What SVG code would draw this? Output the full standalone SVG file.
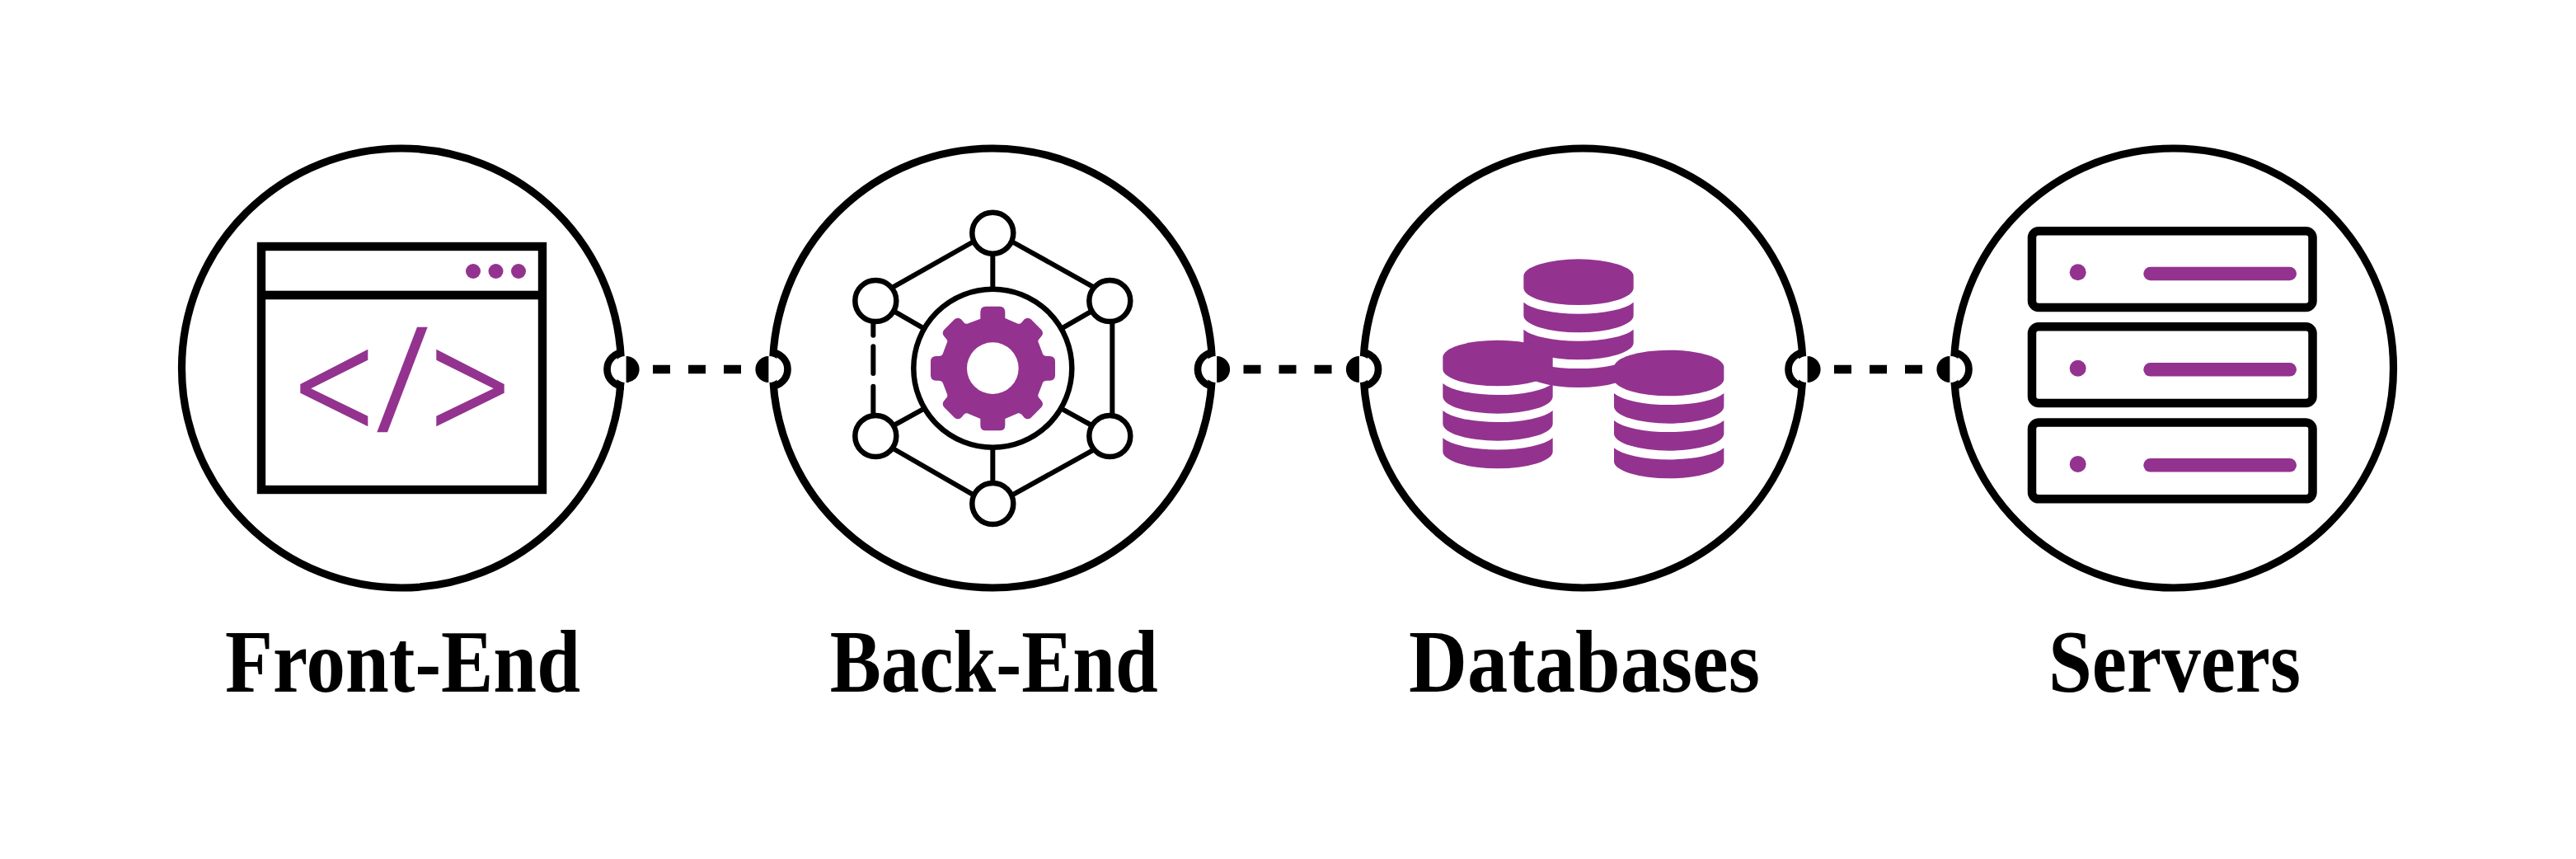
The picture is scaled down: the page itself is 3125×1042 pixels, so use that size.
<svg xmlns="http://www.w3.org/2000/svg" width="3125" height="1042" viewBox="0 0 3125 1042">
<style>
.big{fill:#fff;stroke:#000;stroke-width:9.2}
.p{fill:#93338f}
.lbl{font-family:"Liberation Serif","Times New Roman",serif;font-weight:700;font-size:108px;fill:#000}
.net{fill:none;stroke:#000;stroke-width:6;stroke-linecap:round}
.nd{fill:#fff;stroke:#000;stroke-width:6.5}
.srv{fill:#fff;stroke:#000;stroke-width:10.5}
</style>
<defs>
<g id="stack" class="p">
<path d="M505,135A200,62 0 0 1 905,135V178A200,62 0 0 1 505,178Z"/>
<path d="M505,230A211,62 0 0 0 905,230V278A200,62 0 0 1 505,278Z"/>
<path d="M505,329A211,62 0 0 0 905,329V377A200,62 0 0 1 505,377Z"/>
<path d="M505,429A211,62 0 0 0 905,429V478A200,62 0 0 1 505,478Z"/>
</g>
<g id="port">
<circle cx="0" cy="0" r="16" fill="#fff"/>
<path d="M-2,-20.5A20.5,20.5 0 0 0 -2,20.5" fill="none" stroke="#000" stroke-width="8.7"/>
<path d="M0.6,-16A16,16 0 0 1 0.6,16Z" fill="#000"/>
</g>
</defs>
<rect width="3125" height="1042" fill="#fff"/>

<g id="front-end">
<circle class="big" cx="487" cy="446.5" r="266.5"/>
<rect x="317" y="299" width="341" height="295" fill="#fff" stroke="#000" stroke-width="10.4"/>
<rect x="312" y="352.7" width="351" height="10.6" fill="#000"/>
<g class="p">
<circle cx="574" cy="329" r="9"/><circle cx="601.5" cy="329" r="9"/><circle cx="629" cy="329" r="9"/>
<polygon points="446.3,423.7 364.3,466 364.3,476.7 446.3,517.3 446.3,504.7 377.3,471.3 446.3,436.7"/>
<polygon points="506,396.7 518.7,396.7 470,524.3 457.3,524.3"/>
<polygon points="529.3,423.7 611.7,466 611.7,476.7 529.3,517.3 529.3,504.7 598.7,471.3 529.3,436.7"/>
</g>
<text class="lbl" x="273" y="839" textLength="431" lengthAdjust="spacingAndGlyphs">Front-End</text>
</g>

<g id="back-end">
<circle class="big" cx="1204" cy="446.5" r="266.5"/>
<g transform="translate(1000,230) scale(.33333)" class="net" style="stroke-width:18">
<path d="M538,192L255,352M688,192L975,352M255,945L538,1108M975,950L690,1108"/>
<path d="M613,240V355M613,945V1060M258,445L358,503M968,445L868,503M258,855L358,800M968,855L868,800"/>
<path d="M1048,485V815M178,485V530M178,571V669M178,716V815"/>
</g>
<g class="nd">
<circle cx="1204.3" cy="282.7" r="25"/><circle cx="1062.3" cy="365" r="25"/><circle cx="1346.3" cy="365" r="25"/>
<circle cx="1062.3" cy="529" r="25"/><circle cx="1346.3" cy="529" r="25"/><circle cx="1204.3" cy="611" r="25"/>
</g>
<circle cx="1204.3" cy="446.7" r="96" fill="#fff" stroke="#000" stroke-width="6.5"/>
<g transform="translate(1000,230) scale(.33333)">
<path class="p" d="M568,470V445Q568,425 588,425H638Q658,425 658,445V468L705,488Q712,490 718,484L728,472Q740,462 752,472L790,510Q800,522 790,534L780,546Q776,552 780,558L795,598Q798,606 810,606H820Q840,606 840,626V675Q840,695 820,695H810Q798,695 795,703L780,742Q776,750 780,756L790,768Q800,780 790,792L752,830Q740,840 728,830L718,818Q712,812 705,814L658,834V857Q658,877 638,877H588Q568,877 568,857V834L520,814Q514,812 508,818L498,830Q486,840 474,830L436,792Q426,780 436,768L446,756Q450,750 446,742L431,703Q428,695 416,695H407Q387,695 387,675V626Q387,606 407,606H416Q428,606 431,598L446,558Q450,552 446,546L436,534Q426,522 436,510L474,472Q486,462 498,472L508,484Q514,490 520,488Z"/>
<circle cx="613" cy="650" r="94" fill="#fff"/>
</g>
<text class="lbl" x="1006.7" y="839" textLength="398" lengthAdjust="spacingAndGlyphs">Back-End</text>
</g>

<g id="databases">
<circle class="big" cx="1920.5" cy="446.5" r="266.5"/>
<g transform="translate(1680,290) scale(.33333)">
<use href="#stack"/>
<use href="#stack" transform="translate(-294,295)"/>
<use href="#stack" transform="translate(329,331)"/>
</g>
<text class="lbl" x="1709" y="839" textLength="426" lengthAdjust="spacingAndGlyphs">Databases</text>
</g>

<g id="servers">
<circle class="big" cx="2637" cy="446.5" r="266.5"/>
<rect class="srv" x="2465" y="280.3" width="340.5" height="92.7" rx="8"/>
<rect class="srv" x="2465" y="396.3" width="340.5" height="92.7" rx="8"/>
<rect class="srv" x="2465" y="512.6" width="340.5" height="92.7" rx="8"/>
<g class="p">
<circle cx="2520.7" cy="330.3" r="10"/><rect x="2600.3" y="323.7" width="185.7" height="16.6" rx="8.3"/>
<circle cx="2520.7" cy="446.7" r="10"/><rect x="2600.3" y="440" width="185.7" height="16.6" rx="8.3"/>
<circle cx="2520.7" cy="563" r="10"/><rect x="2600.3" y="556" width="185.7" height="16.6" rx="8.3"/>
</g>
<text class="lbl" x="2485" y="839" textLength="306" lengthAdjust="spacingAndGlyphs">Servers</text>
</g>

<g id="connectors">
<g id="link-1">
<use href="#port" transform="translate(759,448)"/>
<line x1="792" y1="448" x2="899" y2="448" stroke="#000" stroke-width="10.4" stroke-dasharray="21 22"/>
<use href="#port" transform="translate(933,448) scale(-1,1)"/>
</g>
<g id="link-2" transform="translate(716.5,0)">
<use href="#port" transform="translate(759,448)"/>
<line x1="792" y1="448" x2="899" y2="448" stroke="#000" stroke-width="10.4" stroke-dasharray="21 22"/>
<use href="#port" transform="translate(933,448) scale(-1,1)"/>
</g>
<g id="link-3" transform="translate(1433,0)">
<use href="#port" transform="translate(759,448)"/>
<line x1="792" y1="448" x2="899" y2="448" stroke="#000" stroke-width="10.4" stroke-dasharray="21 22"/>
<use href="#port" transform="translate(933,448) scale(-1,1)"/>
</g>
</g>
</svg>
